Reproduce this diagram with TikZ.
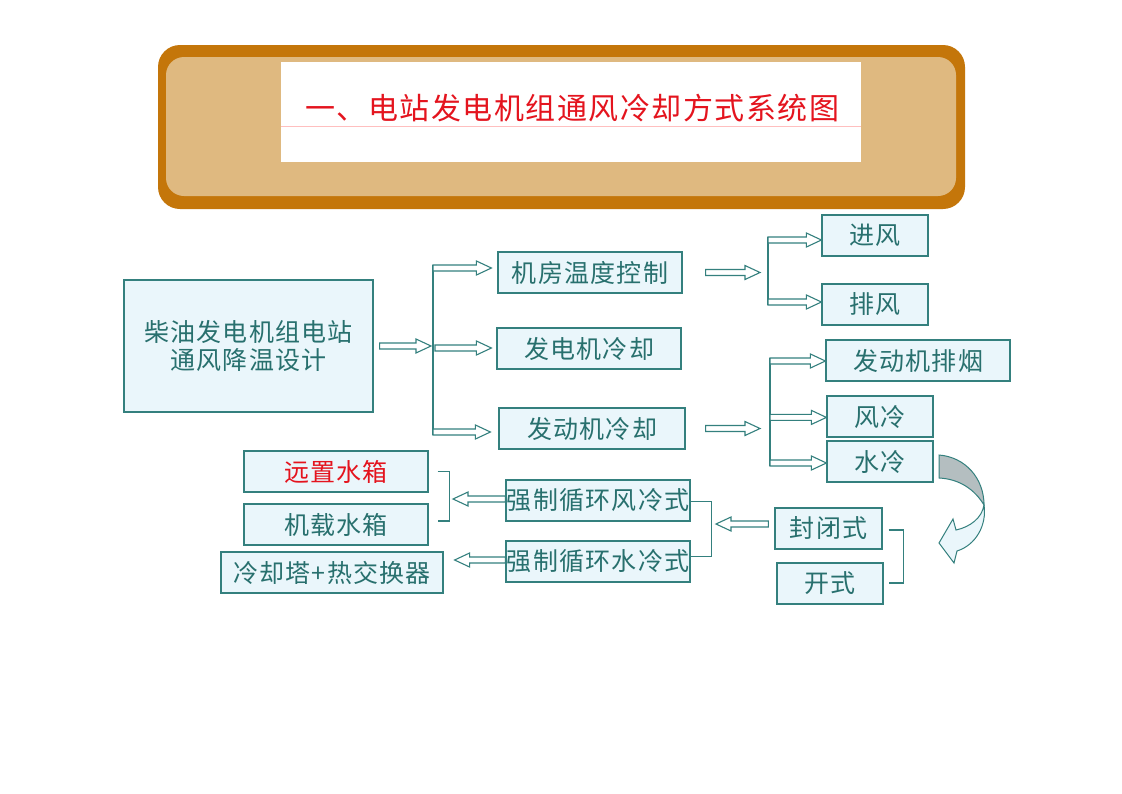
\documentclass[tikz,border=0pt]{standalone}
\usepackage{fontspec}
\newfontfamily\cjk{Noto Sans CJK SC}
\usetikzlibrary{calc}
\definecolor{tealline}{RGB}{52,128,126}
\definecolor{tealtext}{RGB}{40,112,110}
\definecolor{boxfill}{RGB}{234,246,251}
\definecolor{bannerdark}{RGB}{196,118,10}
\definecolor{bannertan}{RGB}{223,185,128}
\definecolor{titlered}{RGB}{228,20,30}
\definecolor{curvegray}{RGB}{180,190,192}
\begin{document}
\begin{tikzpicture}[x=1pt, y=-1pt,
    box/.style={rectangle, draw=tealline, line width=1.2pt, fill=boxfill, inner sep=0pt,
      minimum height=41pt, text=tealtext, align=center,
      font=\cjk\fontsize{25}{28}\selectfont\addfontfeature{LetterSpace=5}},
    wide/.style={minimum width=184pt},
    narrow/.style={minimum width=106pt},
    harrow/.style={draw=tealline, line width=1.1pt, fill=white,
      to path={let \p1=(\tikztostart), \p2=(\tikztotarget), \n1={sign(\x2-\x1)} in
        (\x1,\y1+3pt) -- ({\x2-\n1*15pt},\y1+3pt) -- ({\x2-\n1*15pt},\y1+7pt) -- (\x2,\y1)
        -- ({\x2-\n1*15pt},\y1-7pt) -- ({\x2-\n1*15pt},\y1-3pt) -- (\x1,\y1-3pt) -- cycle}},
    bus/.style={draw=tealline, line width=1.2pt}
]
\useasboundingbox[fill=white] (0,0) rectangle (1122,793);
% title banner
\fill[bannerdark, rounded corners=22pt] (158,45) rectangle (965,209);
\fill[bannertan, rounded corners=18pt] (166,57) rectangle (956,196);
\fill[white] (281,62) rectangle (861,162);
\draw[red!25, line width=0.8pt] (281,126) -- (861,126);
\node[text=titlered, font=\cjk\fontsize{30}{32}\selectfont\addfontfeature{LetterSpace=5}] (title) at (572,108) {一、电站发电机组通风冷却方式系统图};
% boxes
\node[box, minimum width=249pt, minimum height=132pt] (main) at (248.5,346) {柴油发电机组电站\\通风降温设计};
\node[box, wide] (room) at (590,272.5) {机房温度控制};
\node[box, wide] (gen) at (589,348.5) {发电机冷却};
\node[box, minimum width=186pt] (eng) at (592,428.5) {发动机冷却};
\node[box, narrow] (inair) at (875,235.5) {进风};
\node[box, narrow] (outair) at (875,304.5) {排风};
\node[box, wide] (exhaust) at (918,360.5) {发动机排烟};
\node[box, narrow] (aircool) at (880,416.5) {风冷};
\node[box, narrow] (watercool) at (880,461.5) {水冷};
\node[box, wide, text=titlered] (remote) at (336,471.5) {远置水箱};
\node[box, wide] (onboard) at (336,524.5) {机载水箱};
\node[box, minimum width=222pt] (tower) at (332,572.5) {冷却塔+热交换器};
\node[box, wide] (forcedair) at (598,500.5) {强制循环风冷式};
\node[box, wide] (forcedwater) at (598,561.5) {强制循环水冷式};
\node[box, minimum width=107pt] (closed) at (828.5,528.5) {封闭式};
\node[box, narrow] (open) at (830,583.5) {开式};
% branch points
\coordinate (split1) at (431,348);
\coordinate (bus1a) at (433,265);
\coordinate (bus1b) at (433,435);
\coordinate (split2) at (760,270);
\coordinate (bus2a) at (768,237);
\coordinate (bus2b) at (768,305);
\coordinate (split3) at (760,427);
\coordinate (bus3a) at (770,358);
\coordinate (bus3b) at (770,466);
\coordinate (join1) at (453,502);
\coordinate (join2) at (716,533);
% first level
\draw[harrow] ([xshift=6pt]main.east) to (split1);
\draw[bus] (bus1a) -- (bus1b);
\draw[harrow] ([yshift=-3pt]bus1a) to ([xshift=-6pt]room.west);
\draw[harrow] ([xshift=4pt]split1) to ([xshift=-5pt]gen.west);
\draw[harrow] ([yshift=3pt]bus1b) to ([xshift=-8pt]eng.west);
% room temperature
\draw[harrow] ([xshift=23pt]room.east) to (split2);
\draw[bus] (bus2a) -- (bus2b);
\draw[harrow] ([yshift=-3pt]bus2a) to (inair.west);
\draw[harrow] ([yshift=3pt]bus2b) to (outair.west);
% engine cooling
\draw[harrow] ([xshift=20pt]eng.east) to (split3);
\draw[bus] (bus3a) -- (bus3b);
\draw[harrow] ([yshift=-3pt]bus3a) to (exhaust.west);
\draw[harrow] ($(bus3a)!0.55!(bus3b)$) to (aircool.west);
\draw[harrow] ([yshift=3pt]bus3b) to (watercool.west);
% water cooling
\draw[bus] ([xshift=6pt,yshift=-1.5pt]closed.east) -| ([xshift=20pt,yshift=0.5pt]open.east) -- ([xshift=5pt,yshift=0.5pt]open.east);
\draw[harrow] ([xshift=-6pt,yshift=4.5pt]closed.west) to (join2);
\draw[bus] ([yshift=-1pt]forcedair.east) -| ([xshift=21pt,yshift=5pt]forcedwater.east) -- ([yshift=5pt]forcedwater.east);
\draw[harrow] ([yshift=1.5pt]forcedair.west) to (join1);
\draw[bus] ([xshift=9pt]remote.east) -| ([xshift=21pt,yshift=3.5pt]onboard.east) -- ([xshift=9pt,yshift=3.5pt]onboard.east);
\draw[harrow] ([yshift=1.5pt]forcedwater.west) to ([xshift=11pt]tower.east);
% curved arrow
\filldraw[fill=curvegray, draw=tealline, line width=1pt] (939,455) .. controls (965,457) and (984,478) .. (984,505)
  .. controls (975,490) and (960,479) .. (939,478) -- cycle;
\filldraw[fill=boxfill, draw=tealline, line width=1pt] (984,505) .. controls (987,525) and (976,545) .. (957,551)
  -- (954,563) -- (939,543) -- (953,519) -- (956,530) .. controls (970,527) and (982,518) .. (984,505) -- cycle;
\end{tikzpicture}
\end{document}
